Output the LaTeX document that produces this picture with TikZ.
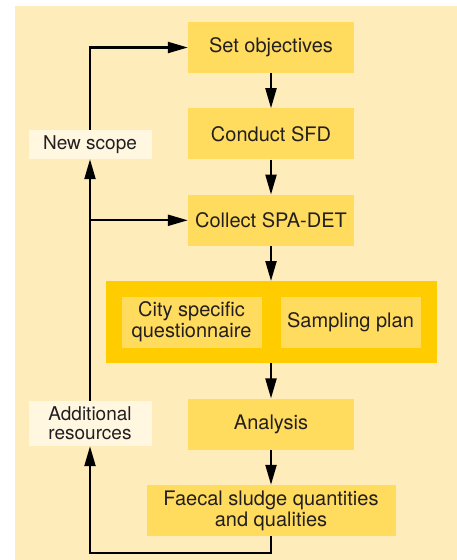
\documentclass[tikz,border=0pt]{standalone}
\usepackage{fontspec}
\setmainfont{TeX Gyre Heros}
\usetikzlibrary{arrows.meta,positioning,calc}
\definecolor{sfdback}{RGB}{254,237,186}
\definecolor{sfdbox}{RGB}{255,219,94}
\definecolor{sfdgold}{RGB}{255,204,0}
\definecolor{sfdnote}{RGB}{255,247,224}
\definecolor{sfdtext}{RGB}{35,31,32}
\tikzset{
  sfdarrow/.style={-{Triangle[length=20pt,width=11pt]}, line width=2.2pt, draw=black},
  sfdstep/.style={
    fill=sfdbox,
    align=center,
    text=sfdtext,
    font=\fontsize{20}{21}\selectfont,
    minimum width=166pt,
    minimum height=51pt,
    inner sep=0pt
  },
  sfdgroup/.style={
    fill=sfdgold,
    minimum width=331pt,
    minimum height=82pt,
    inner sep=0pt
  },
  sfdlabel/.style={
    fill=sfdnote,
    align=center,
    text=sfdtext,
    font=\fontsize{19}{19}\selectfont,
    minimum width=123pt,
    inner sep=0pt
  }
}
\begin{document}
\begin{tikzpicture}[x=1pt, y=1pt, node distance=35pt]
  \useasboundingbox (0,0) rectangle (457,-560);
  \fill[sfdback] (15,-6) rectangle (457,-560);

  \node[sfdstep] (obj) at (271,-47.5) {Set objectives};
  \node[sfdstep, below=of obj] (sfd) {Conduct SFD};
  \node[sfdstep, below=of sfd] (det) {Collect SPA-DET};
  \node[sfdgroup, below=of det] (grp) {};
  \node[sfdstep, minimum width=140pt, anchor=west] (quest) at ($(grp.west)+(16,0)$) {City specific\\questionnaire};
  \node[sfdstep, minimum width=140pt, anchor=east] (plan) at ($(grp.east)+(-16,0)$) {Sampling plan};
  \node[sfdstep, below=of grp] (ana) {Analysis};
  \node[sfdstep, minimum width=249pt, below=of ana] (fs) {Faecal sludge quantities\\and qualities};
  \node[sfdlabel, minimum height=29pt] (scope) at (90,-144.5) {New scope};
  \node[sfdlabel, minimum height=45pt] (res) at (90,-423.5) {Additional\\resources};

  \draw[sfdarrow] (obj) -- (sfd);
  \draw[sfdarrow] (sfd) -- (det);
  \draw[sfdarrow] (det) -- (grp);
  \draw[sfdarrow] (grp) -- (ana);
  \draw[sfdarrow] (ana) -- (fs);
  \draw[sfdarrow] (fs.south) -- ++(0,-17) -| (res.south);
  \draw[sfdarrow] (res.north) -- (scope.south);
  \draw[sfdarrow] (scope.north) |- (obj.west);
  \draw[sfdarrow] (det.west -| scope.north) -- (det.west);
\end{tikzpicture}
\end{document}
